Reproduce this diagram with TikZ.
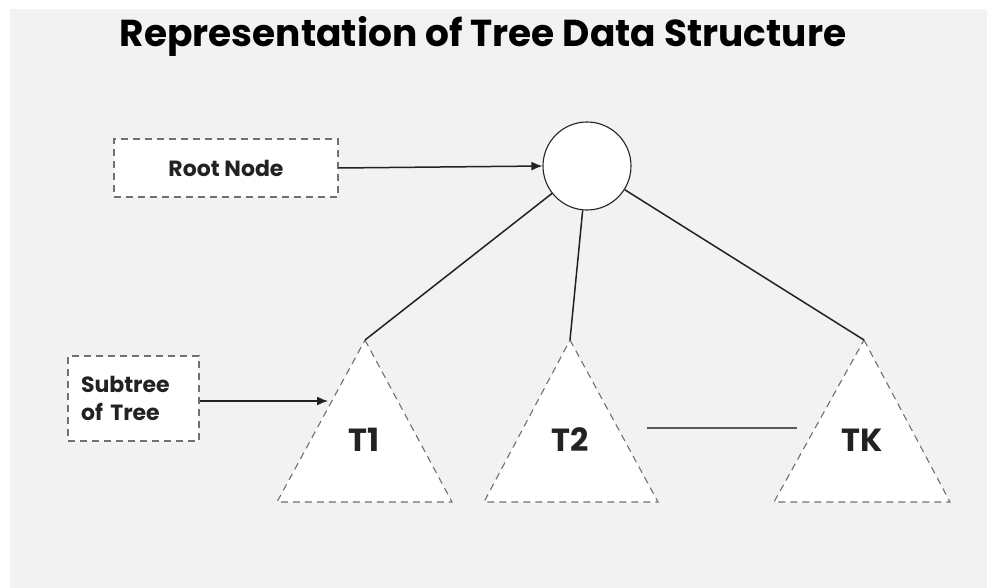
\documentclass[tikz,border=0pt]{standalone}
\usepackage{fontspec}
\setmainfont{Poppins}
\usetikzlibrary{arrows.meta}
\definecolor{canvas}{HTML}{F2F2F2}
\definecolor{ink}{HTML}{222222}
\definecolor{dashgray}{HTML}{707070}
\tikzset{
  labelbox/.style={draw=dashgray, dash pattern=on 7pt off 5pt, fill=white, line width=1.1pt},
  subtri/.style={draw=dashgray, dash pattern=on 7pt off 5pt, fill=white, line width=1.1pt},
  edge/.style={draw=ink, line width=1.5pt},
  pointer/.style={draw=ink, line width=1.5pt, -{Latex[length=11pt,width=9pt]}},
  boxtext/.style={font=\fontsize{22}{28}\selectfont\bfseries, text=ink},
  trilabel/.style={font=\fontsize{32}{36}\selectfont\bfseries, text=ink},
}
\begin{document}
\begin{tikzpicture}[x=1pt, y=-1pt]
  \useasboundingbox (0,0) rectangle (987,588);
  \fill[white] (0,0) rectangle (987,588);
  \fill[canvas] (10,9) rectangle (987,588);

  % heading
  \node[font=\fontsize{37.5}{44}\selectfont\bfseries, text=black] (title) at (483,36) {Representation of Tree Data Structure};

  % root of the tree
  \node[circle, draw=ink, fill=white, line width=1.1pt, minimum size=88pt, inner sep=0pt] (root) at (587,166) {};

  % subtrees T1, T2, ..., TK
  \coordinate (a1) at (365,340);
  \coordinate (a2) at (570,340);
  \coordinate (ak) at (864,340);
  \path[subtri] (a1) -- (452,502) -- (277,502) -- cycle;
  \path[subtri] (a2) -- (658,502) -- (484,502) -- cycle;
  \path[subtri] (ak) -- (950,502) -- (774,502) -- cycle;
  \node[trilabel] (t1) at (364,440) {T1};
  \node[trilabel] (t2) at (570,440) {T2};
  \node[trilabel] (tk) at (862,440) {TK};

  % edges from the root
  \draw[edge] (root) -- (a1);
  \draw[edge] (root) -- (a2);
  \draw[edge] (root) -- (ak);

  % ellipsis link between T2 and TK
  \coordinate (m1) at (647,428);
  \coordinate (m2) at (797,428);
  \draw[draw=dashgray!80!black, line width=1.3pt] (m1) -- (m2);

  % annotations
  \node[labelbox, minimum width=224pt, minimum height=58pt, boxtext] (rootlbl) at (226,168) {Root Node};
  \node[labelbox, minimum width=131pt, minimum height=85pt, text width=105pt, boxtext, align=left] (sublbl) at (133.5,398.5) {Subtree\\of Tree};
  \coordinate (subtip) at (328,401);
  \draw[pointer] (rootlbl.east) -- (root.west);
  \draw[pointer] (sublbl.east |- subtip) -- (subtip);
\end{tikzpicture}
\end{document}
